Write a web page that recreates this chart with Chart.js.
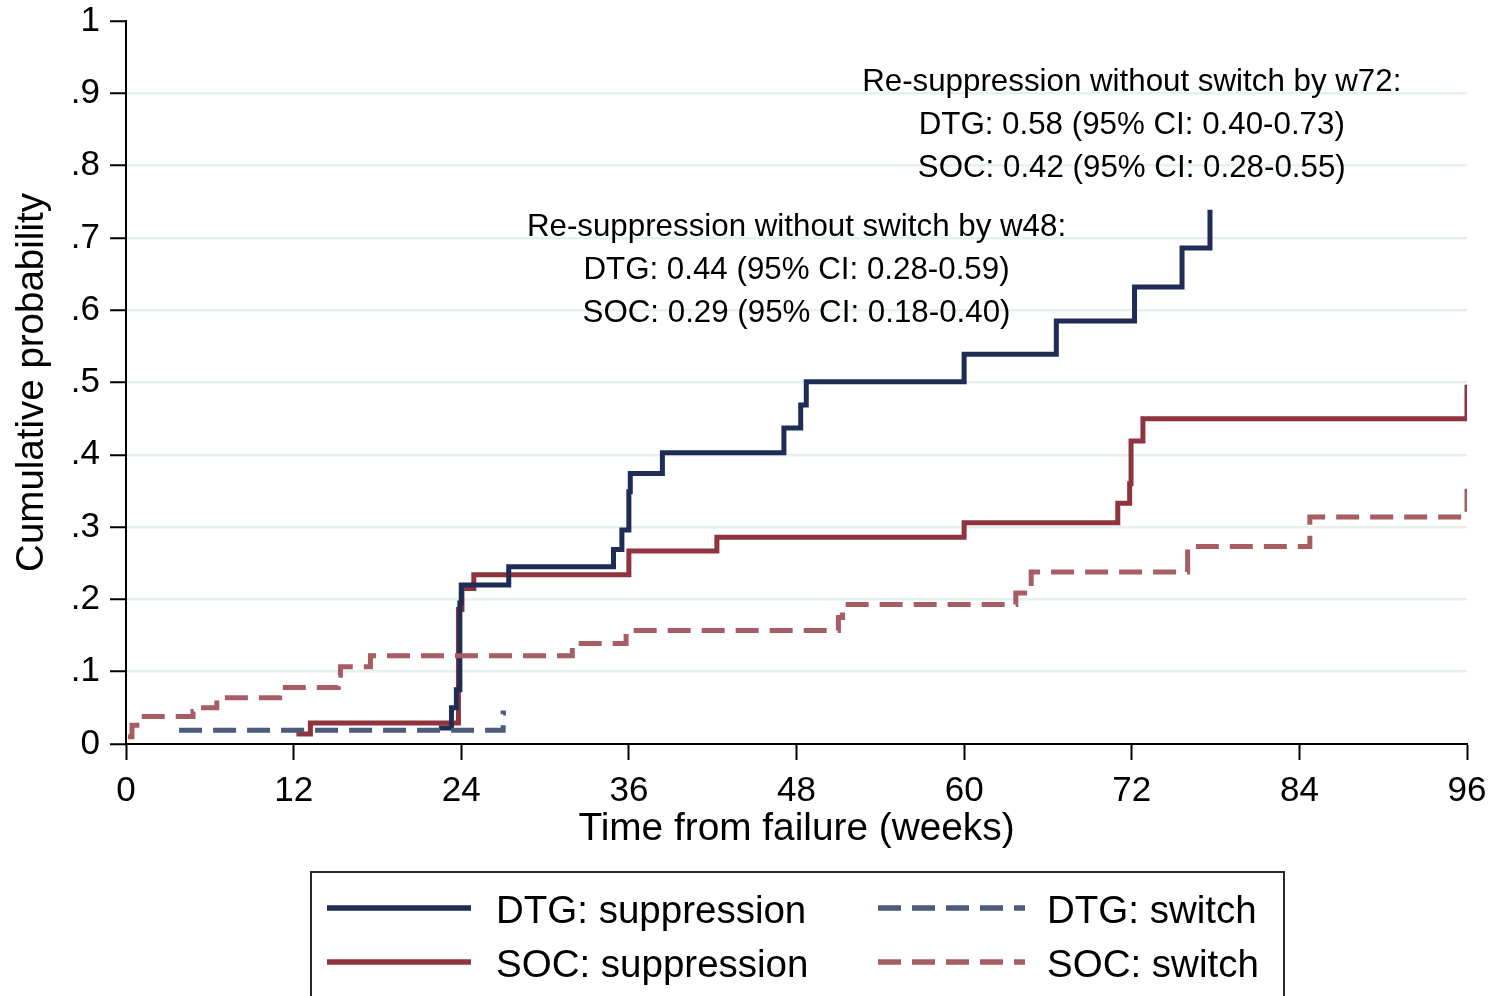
<!DOCTYPE html>
<html>
<head>
<meta charset="utf-8">
<script src="https://cdn.jsdelivr.net/npm/chart.js@4"></script>
<style>
  html, body { margin:0; padding:0; background:#fff; overflow:hidden; }
  #wrap { position:relative; width:1488px; height:996px; }
  #c { position:absolute; left:0; top:0; }
  .lg { position:absolute; font-family:"Liberation Sans", Arial, sans-serif; font-size:38.5px; line-height:44px; color:#000; white-space:nowrap; }
  #legendBox { position:absolute; left:310px; top:871px; width:975px; height:160px; border:2px solid #2a2a2a; box-sizing:border-box; }
  svg.sw { position:absolute; left:0; top:0; }
</style>
</head>
<body>
<div id="wrap">
  <canvas id="c" width="1488" height="996"></canvas>
  <div id="legendBox"></div>
  <svg class="sw" width="1488" height="996" style="pointer-events:none">
    <line x1="327" y1="908" x2="471" y2="908" stroke="#1f2d56" stroke-width="5.5"/>
    <line x1="327" y1="962" x2="471" y2="962" stroke="#8f343e" stroke-width="5.5"/>
    <line x1="878" y1="908" x2="1025" y2="908" stroke="#4c5a7c" stroke-width="5.5" stroke-dasharray="23,11"/>
    <line x1="878" y1="962" x2="1025" y2="962" stroke="#a65d63" stroke-width="5.5" stroke-dasharray="23,11"/>
  </svg>
  <div class="lg" style="left:496px; top:888px;">DTG: suppression</div>
  <div class="lg" style="left:496px; top:942px;">SOC: suppression</div>
  <div class="lg" style="left:1047px; top:888px;">DTG: switch</div>
  <div class="lg" style="left:1047px; top:942px;">SOC: switch</div>
</div>
<script>
// ---- Data (weeks from failure, cumulative probability) ----
const dtgSupWeeks = [22.4, 23.3, 23.65, 23.9, 24.0, 27.4, 34.9, 35.5, 36.0, 36.1, 38.4, 47.1, 48.3, 48.7, 60.0, 66.6, 72.2, 75.6, 77.6];
const dtgSupProb  = [0.022, 0.050, 0.075, 0.195, 0.220, 0.245, 0.269, 0.296, 0.349, 0.374, 0.403, 0.437, 0.469, 0.501, 0.539, 0.585, 0.632, 0.686, 0.739];

const socSupWeeks = [12.2, 13.2, 23.8, 24.05, 24.9, 36.0, 42.3, 60.0, 71.0, 71.85, 71.95, 72.8, 96];
const socSupProb  = [0.014, 0.029, 0.186, 0.215, 0.234, 0.267, 0.286, 0.306, 0.333, 0.360, 0.419, 0.450, 0.497];

const dtgSwWeeks = [3.8, 27.0, 27.2];
const dtgSwProb  = [0.019, 0.043, 0.043];

const socSwWeeks = [0.14, 0.43, 1.0, 4.8, 5.3, 6.5, 11.0, 15.2, 15.35, 17.5, 31.95, 35.8, 51.0, 51.3, 63.7, 64.8, 76.0, 84.75, 96];
const socSwProb  = [0.010, 0.026, 0.038, 0.045, 0.050, 0.064, 0.078, 0.095, 0.107, 0.122, 0.139, 0.157, 0.175, 0.193, 0.209, 0.238, 0.273, 0.314, 0.358];

const xTicks = [0, 12, 24, 36, 48, 60, 72, 84, 96];
const yTicks = [0, 0.1, 0.2, 0.3, 0.4, 0.5, 0.6, 0.7, 0.8, 0.9, 1];

const noteW72 = ["Re-suppression without switch by w72:", "DTG: 0.58 (95% CI: 0.40-0.73)", "SOC: 0.42 (95% CI: 0.28-0.55)"];
const noteW72X = 72;
const noteW72Y = [0.915, 0.856, 0.796];
const noteW48 = ["Re-suppression without switch by w48:", "DTG: 0.44 (95% CI: 0.28-0.59)", "SOC: 0.29 (95% CI: 0.18-0.40)"];
const noteW48X = 48;
const noteW48Y = [0.715, 0.655, 0.596];

const FONT = '"Liberation Sans", Arial, sans-serif';
const pts = (xs, ys) => xs.map((x, i) => ({x: x, y: ys[i]}));

const notesPlugin = {
  id: 'notes',
  afterDatasetsDraw(chart) {
    const {ctx, scales} = chart;
    ctx.save();
    ctx.font = '31.3px ' + FONT;
    ctx.fillStyle = '#000';
    ctx.textAlign = 'center';
    ctx.textBaseline = 'middle';
    noteW72.forEach((t, i) => ctx.fillText(t, scales.x.getPixelForValue(noteW72X), scales.y.getPixelForValue(noteW72Y[i])));
    noteW48.forEach((t, i) => ctx.fillText(t, scales.x.getPixelForValue(noteW48X), scales.y.getPixelForValue(noteW48Y[i])));
    ctx.restore();
  }
};

const common = { showLine: true, pointRadius: 0, pointHoverRadius: 0, stepped: 'before', fill: false, borderCapStyle: 'butt', borderJoinStyle: 'miter' };

new Chart(document.getElementById('c'), {
  type: 'scatter',
  data: {
    datasets: [
      Object.assign({ label: 'SOC: switch', data: pts(socSwWeeks, socSwProb), borderColor: '#a65d63', borderWidth: 5, borderDash: [23, 11] }, common),
      Object.assign({ label: 'DTG: switch', data: pts(dtgSwWeeks, dtgSwProb), borderColor: '#4c5a7c', borderWidth: 5, borderDash: [23, 11] }, common),
      Object.assign({ label: 'DTG: suppression', data: pts(dtgSupWeeks, dtgSupProb), borderColor: '#1f2d56', borderWidth: 5 }, common),
      Object.assign({ label: 'SOC: suppression', data: pts(socSupWeeks, socSupProb), borderColor: '#8f343e', borderWidth: 5 }, common)
    ]
  },
  options: {
    responsive: false,
    animation: false,
    events: [],
    layout: { padding: { left: 0, top: 21, right: 21, bottom: 136 } },
    plugins: { legend: { display: false }, tooltip: { enabled: false } },
    scales: {
      x: {
        type: 'linear', min: 0, max: 96,
        afterBuildTicks: (s) => { s.ticks = xTicks.map(v => ({value: v})); },
        afterFit: (s) => { s.height = 116; s.paddingLeft = 0; s.paddingRight = 0; },
        ticks: { font: { family: FONT, size: 35 }, color: '#000', padding: 10, maxRotation: 0, autoSkip: false },
        grid: { drawOnChartArea: false, tickLength: 16, tickColor: '#000', tickWidth: 2 },
        border: { display: true, color: '#000', width: 2 },
        title: { display: true, text: 'Time from failure (weeks)', font: { family: FONT, size: 38.8 }, color: '#000', padding: { top: 0, bottom: 7 } }
      },
      y: {
        type: 'linear', min: 0, max: 1,
        afterBuildTicks: (s) => { s.ticks = yTicks.map(v => ({value: v})); },
        afterFit: (s) => { s.width = 126; s.paddingTop = 0; s.paddingBottom = 0; },
        ticks: {
          font: { family: FONT, size: 35, lineHeight: 1 }, color: '#000', padding: 10, autoSkip: false,
          callback: (v) => { const r = Math.round(v * 10); return r === 0 ? '0' : (r === 10 ? '1' : '.' + r); }
        },
        grid: {
          color: (c) => (c.tick && c.tick.value > 0.001 && c.tick.value < 0.999) ? '#e7eff1' : 'rgba(0,0,0,0)',
          lineWidth: 2.5, tickLength: 16, tickColor: '#000', tickWidth: 2
        },
        border: { display: true, color: '#000', width: 2 },
        title: { display: true, text: 'Cumulative probability', font: { family: FONT, size: 38.5 }, color: '#000', padding: { top: 9, bottom: 0 } }
      }
    }
  },
  plugins: [notesPlugin]
});
</script>
</body>
</html>
